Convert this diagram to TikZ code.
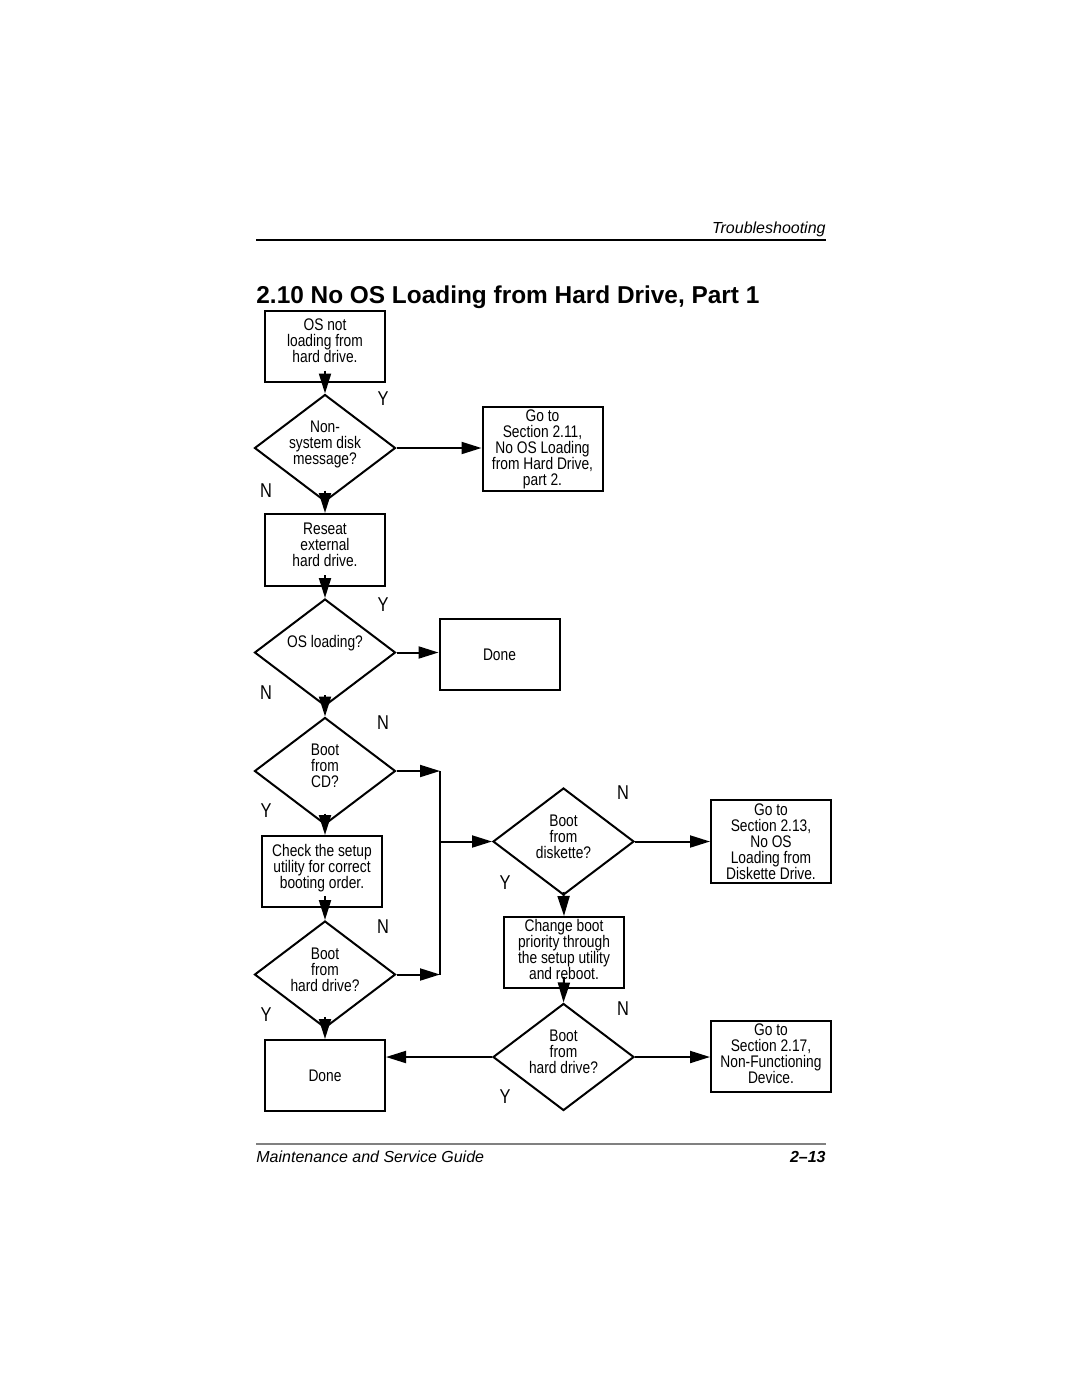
\documentclass[tikz,border=0pt]{standalone}
\usepackage{fontspec}
\setmainfont{Liberation Sans}[FakeStretch=0.82]
\newfontfamily\headfont{Liberation Sans}
\usetikzlibrary{shapes.geometric,arrows.meta}

\tikzset{
    box/.style={draw, line width=1pt, minimum width=60pt, minimum height=35.5pt, inner sep=1pt, align=center, font=\fontsize{8.4}{8}\selectfont},
    choice/.style={draw, diamond, line width=1pt, aspect=1.32, minimum width=70.5pt, minimum height=53.5pt, inner sep=-6pt, align=center, font=\fontsize{8.4}{8}\selectfont},
    yn/.style={font=\fontsize{10}{10}\selectfont},
    flow/.style={line width=1pt, -{Triangle[length=10pt,width=6pt]}},
    rail/.style={line width=1pt},
}

\begin{document}
\begin{tikzpicture}[x=0.5pt, y=-0.5pt]
    \fill[white] (0,0) rectangle (1080,1397);
    \useasboundingbox (0,0) rectangle (1080,1397);

    % page head
    \draw[line width=0.6pt] (256,240) -- (826,240);
        \node[anchor=base east, inner sep=0pt] (head) at (826,233) {\headfont\itshape\fontsize{8}{8}\selectfont Troubleshooting};
        \node[anchor=base west, inner sep=0pt] (title) at (256,303) {\headfont\bfseries\fontsize{12.2}{12.2}\selectfont 2.10 No OS Loading from Hard Drive, Part 1};

    % left column
    \node[box] (start) at (325,346) {OS not\\loading from\\hard drive.\\[-3pt]};
    \node[choice] (nonsys) at (325,448) {Non-\\system disk\\message?\\[-3pt]};
    \node[box, minimum height=42pt] (goto211) at (542.5,449) {Go to\\Section 2.11,\\No OS Loading\\from Hard Drive,\\part 2.};
    \node[box, minimum height=36pt] (reseat) at (325,550) {Reseat\\external\\hard drive.\\[-3pt]};
    \node[choice] (osload) at (325,652.5) {OS loading?\\[3pt]};
    \node[box] (done1) at (499.5,654.5) {Done};
    \node[choice] (cd) at (325,771) {Boot\\from\\CD?\\[-3pt]};
    \node[box] (check) at (322,871.5) {Check the setup\\utility for correct\\booting order.\\[-3pt]};
    \node[choice] (hd1) at (325,974.5) {Boot\\from\\hard drive?\\[-3pt]};
    \node[box] (done2) at (325,1075.5) {Done};

    % right column
    \node[choice] (disk) at (563.5,841.5) {Boot\\from\\diskette?\\[-3pt]};
    \node[box, minimum height=41.5pt] (goto213) at (771,841.5) {Go to\\Section 2.13,\\No OS\\Loading from\\Diskette Drive.};
    \node[box] (change) at (564,952.5) {Change boot\\priority through\\the setup utility\\and reboot.\\[-5pt]};
    \node[choice] (hd2) at (563.5,1057) {Boot\\from\\hard drive?\\[-3pt]};
    \node[box] (goto217) at (771,1056.5) {Go to\\Section 2.17,\\Non-Functioning\\Device.\\[-5pt]};

    % junction
    \coordinate (jtop) at (440,771);
    \coordinate (jmid) at (440,841.5);
    \coordinate (jbot) at (440,974.5);

    % flow
    \draw[flow] ([yshift=6pt]start.south) -- (nonsys.north);
    \draw[flow] (nonsys.east) -- (nonsys.east -| goto211.west);
    \draw[flow] ([yshift=6pt]nonsys.south) -- (reseat.north);
    \draw[flow] ([yshift=6pt]reseat.south) -- (osload.north);
    \draw[flow] (osload.east) -- (osload.east -| done1.west);
    \draw[flow] ([yshift=6pt]osload.south) -- (cd.north);
    \draw[flow] (cd.east) -- (jtop);
    \draw[rail] (jtop) -- (jbot);
    \draw[flow] (jmid) -- (disk.west);
    \draw[flow] ([yshift=6pt]cd.south) -- (cd.south |- check.north);
    \draw[flow] ([yshift=6pt]check.south -| hd1.north) -- (hd1.north);
    \draw[flow] (hd1.east) -- (jbot);
    \draw[flow] ([yshift=6pt]hd1.south) -- (done2.north);
    \draw[flow] (disk.east) -- (disk.east -| goto213.west);
    \draw[flow] ([yshift=2pt]disk.south) -- (change.north);
    \draw[flow] ([yshift=6pt]change.south) -- (hd2.north);
    \draw[flow] (hd2.west) -- (hd2.west -| done2.east);
    \draw[flow] (hd2.east) -- (hd2.east -| goto217.west);

    % answers
        \node[yn] (y1) at (383,399) {Y};
        \node[yn] (n1) at (266,491) {N};
        \node[yn] (y2) at (383,605) {Y};
        \node[yn] (n2) at (266,693) {N};
        \node[yn] (n3) at (383,723) {N};
        \node[yn] (y3) at (266,811) {Y};
        \node[yn] (n4) at (383,927) {N};
        \node[yn] (y4) at (266,1015) {Y};
        \node[yn] (n5) at (623,793) {N};
        \node[yn] (y5) at (505,883) {Y};
        \node[yn] (n6) at (623,1009) {N};
        \node[yn] (y6) at (505,1097) {Y};

    % page foot
    \draw[line width=0.6pt, gray] (256,1144) -- (826,1144);
        \node[anchor=base west, inner sep=0pt] (guide) at (256,1162) {\headfont\itshape\fontsize{8}{8}\selectfont Maintenance and Service Guide};
        \node[anchor=base east, inner sep=0pt] (page) at (826,1162) {\headfont\bfseries\itshape\fontsize{8}{8}\selectfont 2–13};
\end{tikzpicture}
\end{document}
